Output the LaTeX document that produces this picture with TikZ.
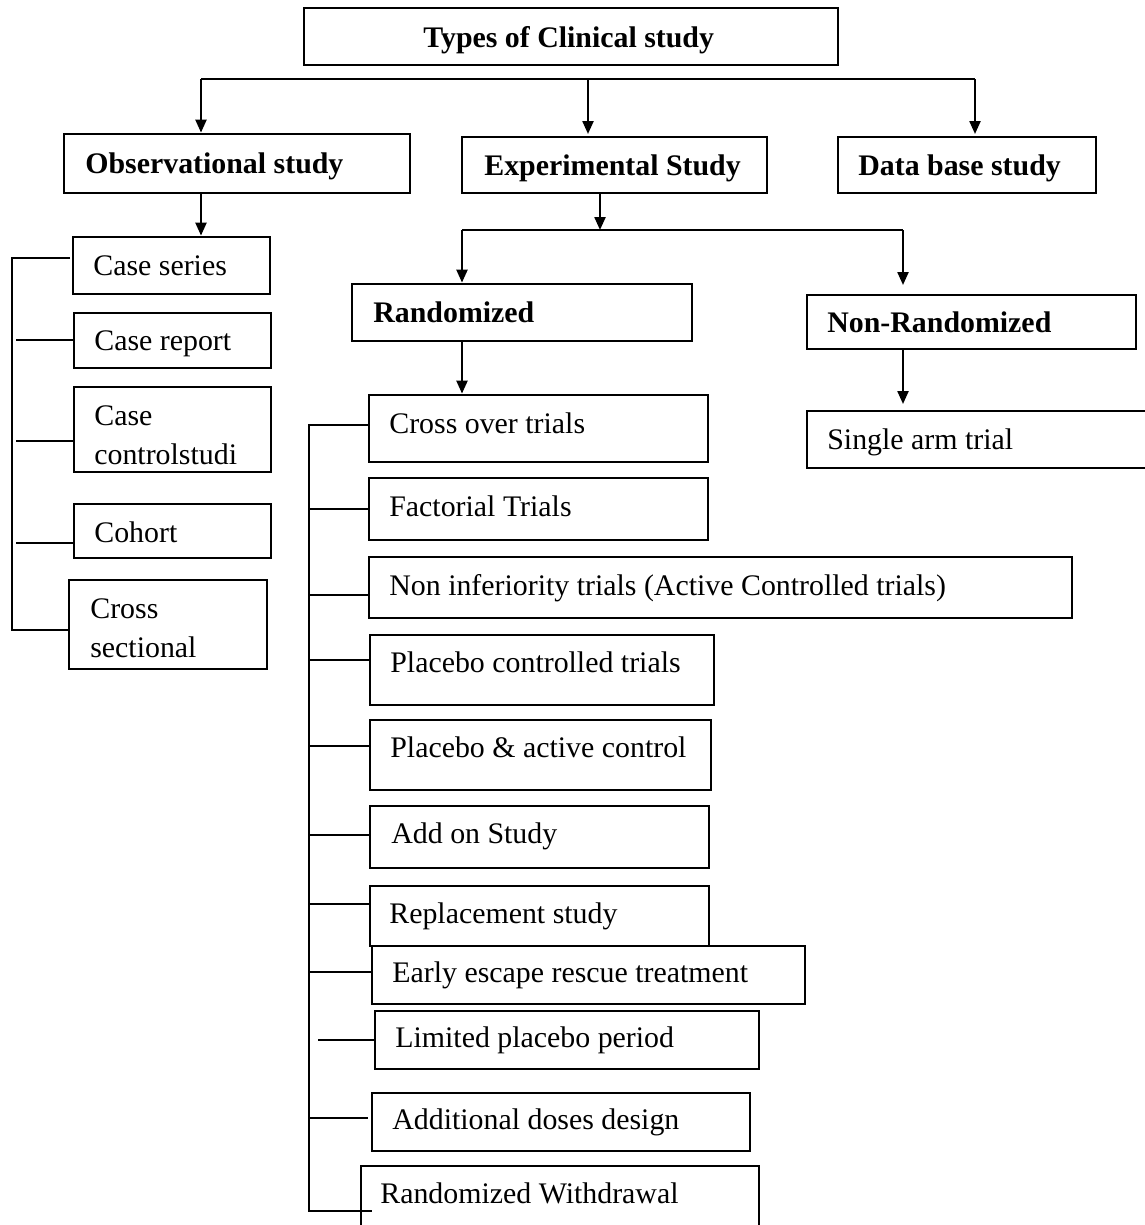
\documentclass[tikz,border=0pt]{standalone}
\usepackage{fontspec}
\setmainfont{Liberation Serif}
\usetikzlibrary{arrows.meta,fit}
\begin{document}
\begin{tikzpicture}[x=0.02cm,y=-0.02cm,
  box/.style={draw=black,line width=1.6pt,inner sep=0pt},
  lbl/.style={anchor=base west,inner sep=0pt,font=\fontsize{17}{22}\selectfont},
  blbl/.style={anchor=base west,inner sep=0pt,font=\fontsize{17}{22}\selectfont\bfseries},
  conn/.style={line width=1.3pt},
  arr/.style={conn,-{Triangle[length=0.26cm,width=0.22cm]}}]
\useasboundingbox[fill=white] (0,0) rectangle (1145,1225);

% boxes
\node[box,fit={(304,8)(838,65)}] (top) {};
\node[box,fit={(64,134)(410,193)}] (obs) {};
\node[box,fit={(462,137)(767,193)}] (exp) {};
\node[box,fit={(838,137)(1096,193)}] (db) {};
\node[box,fit={(73,237)(270,294)}] (cser) {};
\node[box,fit={(74,313)(271,368)}] (crep) {};
\node[box,fit={(74,387)(271,472)}] (cctl) {};
\node[box,fit={(74,504)(271,558)}] (coh) {};
\node[box,fit={(69,580)(267,669)}] (xsec) {};
\node[box,fit={(352,284)(692,341)}] (rand) {};
\node[box,fit={(807,295)(1136,349)}] (nrand) {};
\node[box,fit={(807,411)(1160,468)}] (single) {};
\node[box,fit={(369,395)(708,462)}] (r1) {};
\node[box,fit={(369,478)(708,540)}] (r2) {};
\node[box,fit={(369,557)(1072,618)}] (r3) {};
\node[box,fit={(370,635)(714,705)}] (r4) {};
\node[box,fit={(370,720)(711,790)}] (r5) {};
\node[box,fit={(370,806)(709,868)}] (r6) {};
\node[box,fit={(370,886)(709,946)}] (r7) {};
\node[box,fit={(372,946)(805,1004)}] (r8) {};
\node[box,fit={(375,1011)(759,1069)}] (r9) {};
\node[box,fit={(372,1093)(750,1151)}] (r10) {};
\node[box,fit={(361,1166)(759,1240)}] (r11) {};

% labels
\node[blbl] (ttop) at (423,47) {Types of Clinical study};
\node[blbl] (tobs) at (85,173) {Observational study};
\node[blbl] (texp) at (484,175) {Experimental Study};
\node[blbl] (tdb) at (858,175) {Data base study};
\node[lbl] (tcser) at (93,275) {Case series};
\node[lbl] (tcrep) at (94,350) {Case report};
\node[lbl] (tcctla) at (94,425) {Case};
\node[lbl] (tcctlb) at (94,464) {controlstudi};
\node[lbl] (tcoh) at (94,542) {Cohort};
\node[lbl] (txseca) at (90,618) {Cross};
\node[lbl] (txsecb) at (90,657) {sectional};
\node[blbl] (trand) at (373,322) {Randomized};
\node[blbl] (tnrand) at (827,332) {Non-Randomized};
\node[lbl] (tsingle) at (827,449) {Single arm trial};
\node[lbl] (tr1) at (389,433) {Cross over trials};
\node[lbl] (tr2) at (389,516) {Factorial Trials};
\node[lbl] (tr3) at (389,595) {Non inferiority trials (Active Controlled trials)};
\node[lbl] (tr4) at (390,672) {Placebo controlled trials};
\node[lbl] (tr5) at (390,757) {Placebo \& active control};
\node[lbl] (tr6) at (391,843) {Add on Study};
\node[lbl] (tr7) at (389,923) {Replacement study};
\node[lbl] (tr8) at (392,982) {Early escape rescue treatment};
\node[lbl] (tr9) at (395,1047) {Limited placebo period};
\node[lbl] (tr10) at (392,1129) {Additional doses design};
\node[lbl] (tr11) at (380,1203) {Randomized Withdrawal};

% top level connectors
\coordinate (bl) at (201,79);
\coordinate (bm) at (588,79);
\coordinate (br) at (975,79);
\draw[conn] (bl) -- (br);
\draw[arr] (bl) -- (bl |- obs.north);
\draw[arr] (bm) -- (588,134);
\draw[arr] (br) -- (975,134);

% observational branch
\draw[arr] (bl |- obs.south) -- (bl |- cser.north);
\coordinate (lt) at (12,258);
\coordinate (lb) at (12,630);
\draw[conn] (70,258) -- (lt) -- (lb) -- (xsec.west |- lb);
\draw[conn] (16,340) -- (crep.west |- 0,340);
\draw[conn] (16,441) -- (cctl.west |- 0,441);
\draw[conn] (16,543) -- (coh.west |- 0,543);

% experimental branch
\coordinate (ej) at (600,230);
\coordinate (ebl) at (462,230);
\coordinate (ebr) at (903,230);
\draw[arr] (ej |- exp.south) -- (ej);
\draw[conn] (ebl) -- (ebr);
\draw[arr] (ebl) -- (ebl |- rand.north);
\draw[arr] (ebr) -- (903,285);
\draw[arr] (ebr |- nrand.south) -- (903,404);
\draw[arr] (ebl |- rand.south) -- (ebl |- r1.north);

% randomized list bracket
\coordinate (rt) at (309,425);
\coordinate (rb) at (309,1211);
\draw[conn] (r1.west |- rt) -- (rt) -- (rb) -- (372,1211);
\draw[conn] (309,509) -- (r2.west |- 0,509);
\draw[conn] (309,595) -- (r3.west |- 0,595);
\draw[conn] (309,660) -- (r4.west |- 0,660);
\draw[conn] (309,746) -- (r5.west |- 0,746);
\draw[conn] (309,835) -- (r6.west |- 0,835);
\draw[conn] (309,904) -- (r7.west |- 0,904);
\draw[conn] (309,972) -- (r8.west |- 0,972);
\draw[conn] (318,1040) -- (r9.west |- 0,1040);
\draw[conn] (309,1118) -- (368,1118);
\end{tikzpicture}
\end{document}
